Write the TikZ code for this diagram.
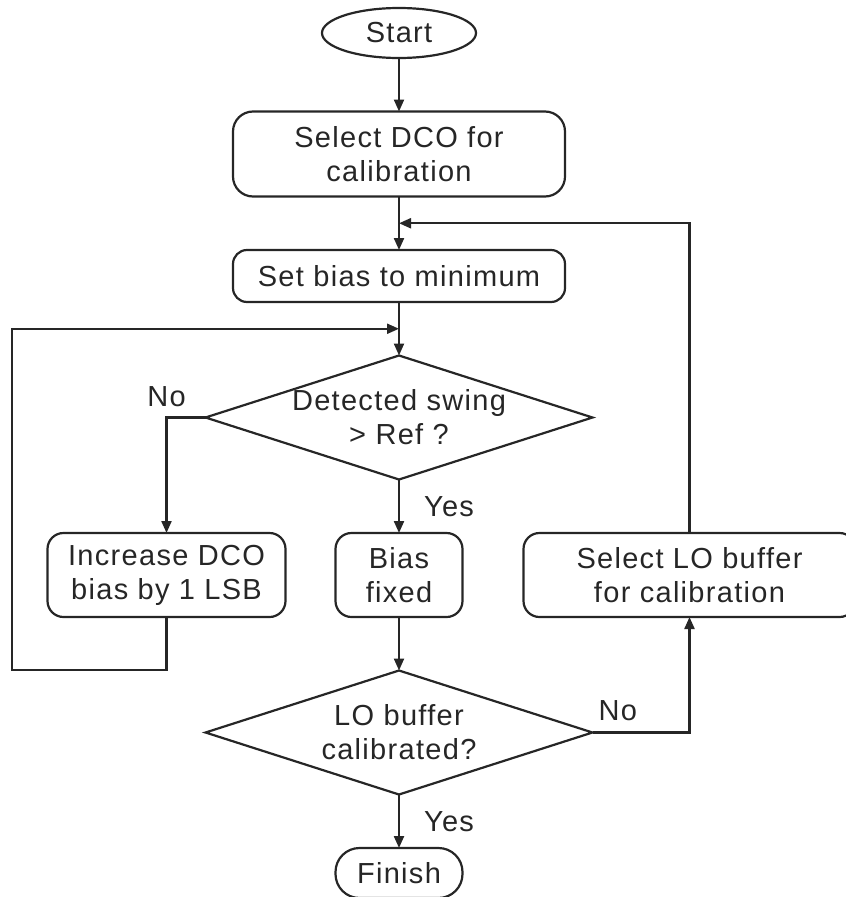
\documentclass[tikz,border=0pt]{standalone}
\usepackage{fontspec}
\setmainfont[LetterSpace=4.5]{Liberation Sans}
\usetikzlibrary{arrows.meta,positioning,shapes.geometric,calc}

\begin{document}
\begin{tikzpicture}[
  x=1pt, y=-1pt,
  font=\fontsize{29}{34}\selectfont,
  node distance=53.5pt and 50pt,
  every node/.style={outer sep=0pt},
  line width=2.2pt, draw=black!85, text=black!85,
  box/.style={rectangle, draw, rounded corners=16pt, align=center, inner sep=0pt, minimum height=84pt},
  term/.style={draw, inner sep=0pt, minimum width=154pt, minimum height=50pt},
  decision/.style={diamond, draw, aspect=3.12, inner sep=0pt, align=center, minimum width=387pt, minimum height=124pt},
  lbl/.style={inner sep=0pt},
  arr/.style={draw=black!85, -{Triangle[length=12pt, width=10pt]}}
]
\useasboundingbox (0,0) rectangle (846,897);

% main column
\node[term, ellipse] (start) at (399,33) {Start};
\node[box, below=of start, minimum width=332pt, minimum height=85pt, rounded corners=20pt] (sel) {Select DCO for\\calibration};
\node[box, below=of sel, minimum width=332pt, minimum height=52pt, rounded corners=14pt] (setb) {Set bias to minimum};
\node[decision, below=of setb] (det) {Detected swing\\> Ref ?};
\node[box, below=of det, minimum width=127pt] (fixed) {Bias\\fixed};
\node[box, left=50pt of fixed, minimum width=238pt] (inc) {Increase DCO\\bias by 1 LSB};
\node[box, right=61pt of fixed, minimum width=332pt] (lo) {Select LO buffer\\for calibration};
\node[decision, below=of fixed] (cal) {LO buffer\\calibrated?};
\node[term, rectangle, below=of cal, minimum width=127pt, rounded corners=24pt] (finish) {Finish};

% junctions for the two loops
\coordinate (j2) at ($(sel.south)!0.5!(setb.north)$);
\coordinate (j1) at ($(setb.south)!0.5!(det.north)$);
\coordinate (lb) at (12,670);

\draw[arr] (start) -- (sel);
\draw[arr] (sel) -- (setb);
\draw[arr] (setb) -- (det);
\draw[arr] (det) -- node[lbl, right=25pt] {Yes} (fixed);
\draw[arr] (det.west) -| node[lbl, pos=0.5, above=11pt] {No} (inc.north);
\draw[arr] (inc.south) |- (lb) |- (j1);
\draw[arr] (fixed) -- (cal);
\draw[arr] (cal.east) -| node[lbl, pos=0.13, above=12pt] {No} (lo.south);
\draw[arr] (lo.north) |- (j2);
\draw[arr] (cal) -- node[lbl, right=25pt] {Yes} (finish);
\end{tikzpicture}
\end{document}
